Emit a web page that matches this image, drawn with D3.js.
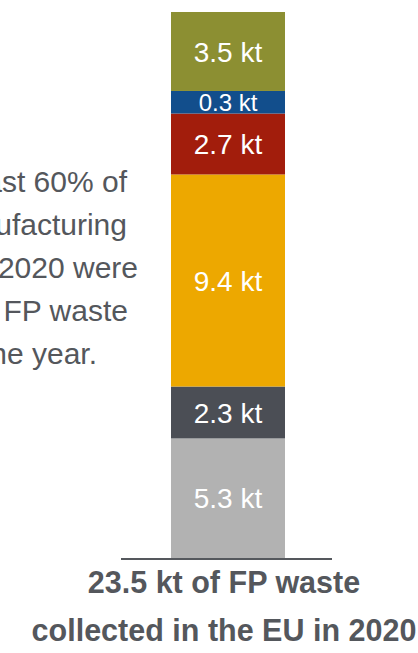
<!DOCTYPE html>
<html>
<head>
<meta charset="utf-8">
<script src="https://cdn.jsdelivr.net/npm/d3@7"></script>
<style>
    html, body { margin: 0; padding: 0; background: #ffffff; overflow: hidden; }
    svg { display: block; }
</style>
</head>
<body>
<div class="visHolder"></div>
<script>
// stacked segments, bottom to top
const categories = ["seg1", "seg2", "seg3", "seg4", "seg5", "seg6"];
const values = [5.3, 2.3, 9.4, 2.7, 0.3, 3.5];
const labels = ["5.3 kt", "2.3 kt", "9.4 kt", "2.7 kt", "0.3 kt", "3.5 kt"];
const colors = ["#b2b2b2", "#4b4e55", "#eda800", "#a21d0c", "#124e8c", "#8c8f32"];

const titleLines = ["23.5 kt of FP waste", "collected in the EU in 2020"];
const noteLines = ["At least 60% of", "the FP manufacturing", "waste in 2020 were", "collected as FP waste", "within one year."];
const noteRight = [127, 127, 138, 128, 97];

document.addEventListener('DOMContentLoaded', function () {
    const w = 418;
    const h = 653;
    const barX0 = 171;
    const barX1 = 285;
    const top = 12;
    const base = 558;
    const textColor = "#54575c";

    // tiny segments get a minimum visible height so the label fits
    const minShown = 1.0;
    const shown = values.map(v => Math.max(v, minShown));

    let acc = 0;
    const stacked = shown.map((v, i) => {
        const d = { key: categories[i], value: values[i], label: labels[i], color: colors[i], y0: acc, y1: acc + v };
        acc += v;
        return d;
    });

    const yScale = d3.scaleLinear()
        .domain([0, acc])
        .range([base, top]);

    const xScale = d3.scaleBand()
        .domain(["EU 2020"])
        .range([barX0, barX1])
        .padding(0);

    const svg = d3.select(".visHolder")
        .append("svg")
        .attr("width", w)
        .attr("height", h);

    svg.selectAll(".seg")
        .data(stacked)
        .enter()
        .append("rect")
        .attr("class", "seg")
        .attr("x", xScale("EU 2020"))
        .attr("width", xScale.bandwidth())
        .attr("y", d => yScale(d.y1))
        .attr("height", d => yScale(d.y0) - yScale(d.y1))
        .attr("fill", d => d.color);

    svg.selectAll(".seg-label")
        .data(stacked)
        .enter()
        .append("text")
        .attr("class", "seg-label")
        .attr("x", xScale("EU 2020") + xScale.bandwidth() / 2)
        .attr("y", d => (yScale(d.y0) + yScale(d.y1)) / 2)
        .attr("dy", "0.36em")
        .attr("text-anchor", "middle")
        .style("font-family", "'Liberation Sans', Arial, sans-serif")
        .style("font-size", d => (yScale(d.y0) - yScale(d.y1) < 30 ? "24px" : "28px"))
        .style("fill", "#ffffff")
        .text(d => d.label);

    // baseline
    svg.append("line")
        .attr("x1", 121)
        .attr("x2", 332)
        .attr("y1", base + 1)
        .attr("y2", base + 1)
        .attr("stroke", "#55585d")
        .attr("stroke-width", 2);

    // note on the left, partly cut by the page edge
    svg.append("g")
        .selectAll("text")
        .data(noteLines)
        .enter()
        .append("text")
        .attr("x", (d, i) => noteRight[i])
        .attr("y", (d, i) => 192 + i * 43)
        .attr("text-anchor", "end")
        .style("font-family", "'Liberation Sans', Arial, sans-serif")
        .style("font-size", "30px")
        .style("fill", textColor)
        .text(d => d);

    // title under the bar
    svg.append("g")
        .selectAll("text")
        .data(titleLines)
        .enter()
        .append("text")
        .attr("x", 224)
        .attr("y", (d, i) => 593 + i * 48)
        .attr("text-anchor", "middle")
        .style("font-family", "'Liberation Sans', Arial, sans-serif")
        .style("font-size", "30.5px")
        .style("font-weight", "bold")
        .style("fill", textColor)
        .text(d => d);
});
</script>
</body>
</html>
